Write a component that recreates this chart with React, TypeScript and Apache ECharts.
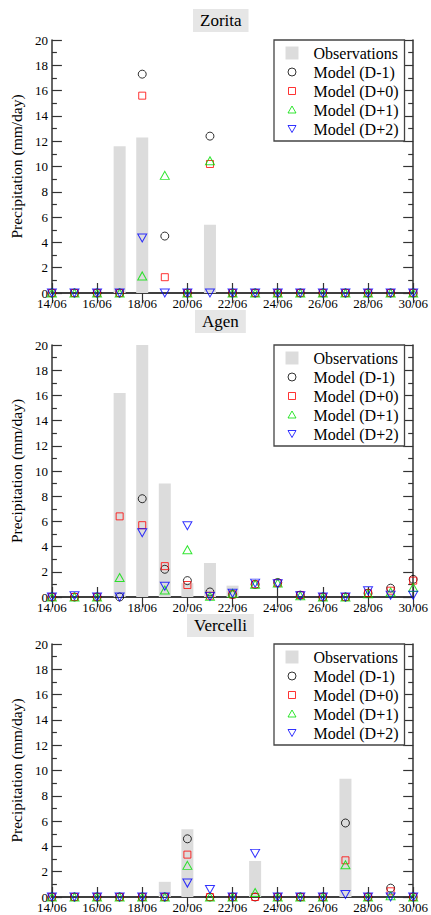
import React, { useEffect, useRef } from "react";
import * as echarts from "echarts";

const days = [14, 15, 16, 17, 18, 19, 20, 21, 22, 23, 24, 25, 26, 27, 28, 29, 30];
const stations = ["Zorita", "Agen", "Vercelli"];
const seriesNames = ["Observations", "Model (D-1)", "Model (D+0)", "Model (D+1)", "Model (D+2)"];
const yTicks = [0, 2, 4, 6, 8, 10, 12, 14, 16, 18, 20];

const zoritaObs = [0, 0, 0, 11.6, 12.3, 0, 0, 5.4, 0, 0, 0, 0, 0, 0, 0, 0, 0];
const zoritaDm1 = [0, 0, 0, 0, 17.3, 4.5, 0, 12.4, 0, 0, 0, 0, 0, 0, 0, 0, 0];
const zoritaD0 = [0, 0, 0, 0, 15.6, 1.25, 0, 10.2, 0, 0, 0, 0, 0, 0, 0, 0, 0];
const zoritaD1 = [0, 0, 0, 0, 1.35, 9.3, 0, 10.45, 0, 0, 0, 0, 0, 0, 0, 0, 0];
const zoritaD2 = [0, 0, 0, 0, 4.35, 0, 0, 0, 0, 0, 0, 0, 0, 0, 0, 0, 0];

const agenObs = [0, 0, 0, 16.2, 21, 9.0, 1.1, 2.7, 0.9, 0, 0, 0, 0, 0, 0, 0, 0];
const agenDm1 = [0, 0, 0, 0, 7.8, 2.2, 1.3, 0.4, 0.2, 1.0, 1.15, 0.15, 0, 0, 0.3, 0.7, 1.4];
const agenD0 = [0, 0, 0, 6.4, 5.7, 2.45, 0.95, 0.1, 0.2, 1.0, 1.1, 0.15, 0, 0, 0.3, 0.5, 1.3];
const agenD1 = [0, 0, 0, 1.55, null, 0.55, 3.75, 0.05, 0.3, 1.0, 1.1, 0.1, 0, 0, 0.25, 0.4, 0.75];
const agenD2 = [0, 0.1, 0, 0, 5.1, 0.85, 5.65, 0.05, 0.3, 1.1, 1.05, 0.1, 0, 0, 0.5, 0.15, 0.15];

const vercelliObs = [0, 0, 0, 0, 0, 1.2, 5.35, 0, 0, 2.85, 0, 0, 0, 9.35, 0, 0, 0];
const vercelliDm1 = [0, 0, 0, 0, 0, 0, 4.6, 0, 0, 0, 0, 0, 0, 5.85, 0, 0.7, 0];
const vercelliD0 = [0, 0, 0, 0, 0, 0, 3.35, 0, 0, 0, 0, 0, 0, 2.9, 0, 0.45, 0];
const vercelliD1 = [0, 0, 0, 0, 0, 0, 2.5, 0, 0, 0.35, 0, 0, 0, 2.55, 0, 0.1, 0];
const vercelliD2 = [0, 0, 0, 0, 0, 0, 1.1, 0.6, 0, 3.45, 0, 0, 0, 0.2, 0, 0, 0];

const stationData = [
  [zoritaObs, zoritaDm1, zoritaD0, zoritaD1, zoritaD2],
  [agenObs, agenDm1, agenD0, agenD1, agenD2],
  [vercelliObs, vercelliDm1, vercelliD0, vercelliD1, vercelliD2],
];

const FONT = '"Liberation Serif", "Times New Roman", serif';
const AXIS_COLOR = "#333";
const colors = ["#dcdcdc", "#000000", "#ff0000", "#00e000", "#0000ff"];
const seriesSymbols = [
  "",
  "circle",
  "rect",
  "path://M5,0 L10,9 L0,9 Z",
  "path://M0,0 L10,0 L5,9 Z",
];
const legendIcons = [
  "path://M0,0 M23,13 M0,0 L13,0 L13,13 L0,13 Z",
  "path://M0,0 M23,13 M10.5,6.5 A4,4 0 1 1 2.5,6.5 A4,4 0 1 1 10.5,6.5 Z",
  "path://M0,0 M23,13 M3,3 L10,3 L10,10 L3,10 Z",
  "path://M0,0 M23,13 M6.5,2.5 L10.5,9.5 L2.5,9.5 Z",
  "path://M0,0 M23,13 M2.5,3 L10.5,3 L6.5,10 Z",
];

const gridTops = [40, 345, 644];
const gridHeights = [253, 252, 253];
const titleLefts = [193, 195, 187];
const titleTops = [9, 310, 614];

function pad2(v: number) {
  return (v < 10 ? "0" : "") + v;
}

export default function App() {
  const ref = useRef<HTMLDivElement>(null);
  useEffect(() => {
    if (!ref.current) return;
    const chart = echarts.init(ref.current, null, { renderer: "svg" });
    const grids: any[] = [];
    const xAxes: any[] = [];
    const yAxes: any[] = [];
    const titles: any[] = [];
    const legends: any[] = [];
    const series: any[] = [];
    stations.forEach((name, i) => {
      grids.push({ left: 50, top: gridTops[i], width: 365, height: gridHeights[i], show: false });
      titles.push({
        text: name,
        left: titleLefts[i],
        top: titleTops[i],
        backgroundColor: "#e6e6e6",
        padding: [3, 7],
        textStyle: { fontFamily: FONT, fontSize: 17, fontWeight: "normal", color: "#000" },
      });
      const xBase = {
        type: "value",
        gridIndex: i,
        min: 14,
        max: 30,
        interval: 2,
        splitLine: { show: false },
        axisLine: { show: true, lineStyle: { color: AXIS_COLOR, width: 1.5 } },
        axisTick: { show: true, inside: true, length: 10, lineStyle: { color: AXIS_COLOR, width: 1.2 } },
      };
      xAxes.push({
        ...xBase,
        position: "bottom",
        axisLabel: {
          show: true,
          margin: 5,
          fontFamily: FONT,
          fontSize: 13,
          lineHeight: 11,
          color: "#000",
          formatter: (v: number) => pad2(v) + "/06",
        },
      });
      xAxes.push({ ...xBase, position: "top", axisLabel: { show: false } });
      const yBase = {
        type: "value",
        gridIndex: i,
        min: yTicks[0],
        max: yTicks[yTicks.length - 1],
        interval: 2,
        splitLine: { show: false },
        axisLine: { show: true, lineStyle: { color: AXIS_COLOR, width: 1.5 } },
        axisTick: { show: true, inside: true, length: 10, lineStyle: { color: AXIS_COLOR, width: 1.2 } },
        minorTick: { show: true, splitNumber: 2, length: 5, lineStyle: { color: AXIS_COLOR, width: 1.2 } },
        minorSplitLine: { show: false },
      };
      yAxes.push({
        ...yBase,
        position: "left",
        name: "Precipitation (mm/day)",
        nameLocation: "middle",
        nameGap: 27,
        nameTextStyle: { fontFamily: FONT, fontSize: 15.5, color: "#000" },
        axisLabel: {
          show: true,
          margin: 4,
          fontFamily: FONT,
          fontSize: 13,
          lineHeight: 9,
          color: "#000",
        },
      });
      yAxes.push({ ...yBase, position: "right", axisLabel: { show: false } });

      legends.push({
        orient: "vertical",
        left: 274,
        top: gridTops[i],
        itemWidth: 23,
        itemHeight: 13,
        itemGap: 3,
        padding: [5, 6, 4, 11],
        backgroundColor: "#fff",
        borderColor: "#444",
        borderWidth: 1.3,
        selectedMode: false,
        textStyle: { fontFamily: FONT, fontSize: 16, color: "#000" },
        data: seriesNames.map((n, k) => ({
          name: n,
          icon: legendIcons[k],
          itemStyle:
            k === 0
              ? { color: colors[0], borderWidth: 0 }
              : { color: "transparent", borderColor: colors[k], borderWidth: 1 },
        })),
      });

      const arrs = stationData[i];
      arrs.forEach((arr, k) => {
        const data: any[] = [];
        arr.forEach((v, j) => {
          if (v !== null && v !== undefined) data.push([days[j], v]);
        });
        if (k === 0) {
          series.push({
            type: "bar",
            name: seriesNames[k],
            xAxisIndex: i * 2,
            yAxisIndex: i * 2,
            data,
            barWidth: 12,
            itemStyle: { color: colors[0] },
            clip: true,
            z: 1,
          });
        } else {
          series.push({
            type: "scatter",
            name: seriesNames[k],
            xAxisIndex: i * 2,
            yAxisIndex: i * 2,
            data,
            symbol: seriesSymbols[k],
            symbolSize: k === 2 ? 7 : k === 1 ? 8 : [9, 8],
            itemStyle: { color: "transparent", borderColor: colors[k], borderWidth: 1 },
            clip: false,
            z: 5,
          });
        }
      });
    });

    chart.setOption({
      animation: false,
      backgroundColor: "#fff",
      title: titles,
      legend: legends,
      grid: grids,
      xAxis: xAxes,
      yAxis: yAxes,
      series,
    });
    return () => chart.dispose();
  }, []);
  return (
    <div
      ref={ref}
      style={{ position: "absolute", left: 0, top: 0, width: 431, height: 915 }}
    />
  );
}
